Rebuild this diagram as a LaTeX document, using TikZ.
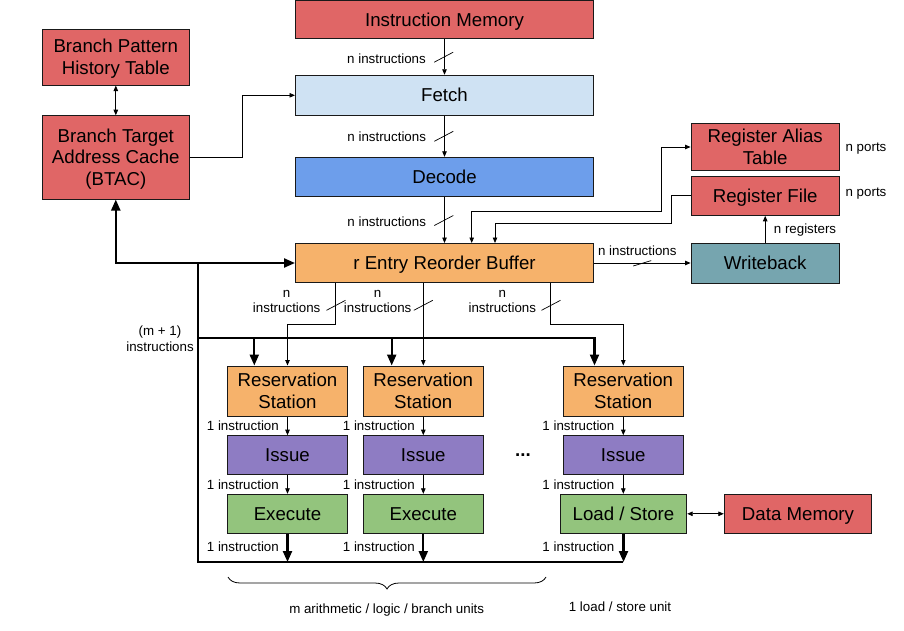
\documentclass[tikz,border=0pt]{standalone}
\usepackage{fontspec}
\setmainfont{Liberation Sans}
\usetikzlibrary{arrows.meta,decorations.pathreplacing,calc}
\definecolor{cred}{HTML}{E06666}
\definecolor{clblue}{HTML}{CFE2F3}
\definecolor{cblue}{HTML}{6D9EEB}
\definecolor{corange}{HTML}{F6B26B}
\definecolor{cteal}{HTML}{76A5AF}
\definecolor{cpurple}{HTML}{8E7CC3}
\definecolor{cgreen}{HTML}{93C47D}
\newcommand{\sst}{\rule[-0.212em]{0pt}{1.117em}}
\begin{document}
\begin{tikzpicture}[x=1pt,y=-1pt,
  box/.style={draw=black!90, line width=1pt, inner sep=0pt, align=center, font=\fontsize{18.67}{21.7}\selectfont},
  lbl/.style={font=\fontsize{13.33}{15.3}\selectfont, inner sep=0pt, align=center},
  arr/.style={line width=0.8pt, -{Triangle[length=5.5pt,width=4.5pt]}},
  arrtwo/.style={line width=0.8pt, {Triangle[length=5.5pt,width=4.5pt]}-{Triangle[length=5.5pt,width=4.5pt]}},
  thickline/.style={line width=2.2pt},
  thickarr/.style={line width=2.2pt, -{Triangle[length=11pt,width=9pt]}},
  slashv/.pic={\draw[line width=0.7pt] (-9.5,5) -- (9.5,-5);},
  slashh/.pic={\draw[line width=0.7pt] (-9,2.7) -- (9,-2.7);}
]
\useasboundingbox (0,0) rectangle (904,631);

% main column
\node[box, fill=cred, minimum width=298pt, minimum height=38pt] (imem) at (444.5,20) {\sst Instruction Memory};
\node[box, fill=clblue, minimum width=298pt, minimum height=40pt] (fetch) at (444.5,95.3) {\sst Fetch};
\node[box, fill=cblue, minimum width=298pt, minimum height=38.7pt] (decode) at (444.5,176.7) {\sst Decode};
\node[box, fill=corange, minimum width=298pt, minimum height=39pt] (rob) at (444.5,263) {\sst r Entry Reorder Buffer};

% branch
\node[box, fill=cred, minimum width=147pt, minimum height=55.7pt] (bpht) at (115.8,57.2) {\sst Branch Pattern\\\sst History Table};
\node[box, fill=cred, minimum width=147pt, minimum height=83.3pt] (btac) at (115.8,157.4) {\sst Branch Target\\\sst Address Cache\\\sst (BTAC)};

% right
\node[box, fill=cred, minimum width=148.3pt, minimum height=47.4pt] (rat) at (765.2,147) {\sst Register Alias\\\sst Table};
\node[box, fill=cred, minimum width=148.3pt, minimum height=39.3pt] (rf) at (765.2,195.7) {\sst Register File};
\node[box, fill=cteal, minimum width=148.3pt, minimum height=40pt] (wb) at (765.2,263) {\sst Writeback};

% columns
\node[box, fill=corange, minimum width=119.6pt, minimum height=50pt] (rs1) at (287.5,391) {\sst Reservation\\\sst Station};
\node[box, fill=corange, minimum width=119.6pt, minimum height=50pt] (rs2) at (423.3,391) {\sst Reservation\\\sst Station};
\node[box, fill=corange, minimum width=119.6pt, minimum height=50pt] (rs3) at (623.3,391) {\sst Reservation\\\sst Station};
\node[box, fill=cpurple, minimum width=119.6pt, minimum height=38.6pt] (is1) at (287.5,455) {\sst Issue};
\node[box, fill=cpurple, minimum width=119.6pt, minimum height=38.6pt] (is2) at (423.3,455) {\sst Issue};
\node[box, fill=cpurple, minimum width=119.6pt, minimum height=38.6pt] (is3) at (623.3,455) {\sst Issue};
\node[box, fill=cgreen, minimum width=119.6pt, minimum height=39pt] (ex1) at (287.5,513.8) {\sst Execute};
\node[box, fill=cgreen, minimum width=119.6pt, minimum height=39pt] (ex2) at (423.3,513.8) {\sst Execute};
\node[box, fill=cgreen, minimum width=126.4pt, minimum height=39pt] (ls) at (623.5,513.8) {\sst Load / Store};
\node[box, fill=cred, minimum width=147.4pt, minimum height=39pt] (dmem) at (798,513.8) {\sst Data Memory};
\node[font=\fontsize{18.67}{21.7}\selectfont\bfseries, inner sep=0pt] (dots) at (523,455.5) {...};

% main flow
\draw[arr] (imem.south) -- (fetch.north);
\pic at (443.7,57.2) {slashv};
\node[lbl] (l1) at (386.5,58.3) {n instructions};
\draw[arr] (fetch.south) -- (decode.north);
\pic at (443.8,136.3) {slashv};
\node[lbl] (l2) at (386.7,136.7) {n instructions};
\draw[arr] (decode.south) -- (rob.north);
\pic at (443.8,220.5) {slashv};
\node[lbl] (l3) at (386.7,221.7) {n instructions};

% branch connections
\draw[arrtwo] (bpht.south) -- (btac.north);
\draw[arr] (btac.east) -- ++(53,0) |- (fetch.west);

% thick feedback
\coordinate (jn) at (198.3,263);
\coordinate (jb) at (198.3,338);
\coordinate (bb) at (198.3,562);
\coordinate (be) at (623.3,562);
\coordinate (t1) at (254.3,338);
\coordinate (t2) at (391.7,338);
\coordinate (t3) at (594.5,338);
\draw[thickarr, line join=miter] (be) -- (bb) -- (jn) -| (btac.south);
\draw[thickarr] (jn) -- (rob.west);
\draw[thickarr, line join=miter] (jb) -- (t3) -- (t3 |- rs3.north);
\draw[thickarr] (t1) -- (t1 |- rs1.north);
\draw[thickarr] (t2) -- (t2 |- rs2.north);
\draw[thickarr] (ex1.south) -- (ex1.south |- bb);
\draw[thickarr] (ex2.south) -- (ex2.south |- bb);
\draw[thickarr] (ls.south) -- (ls.south |- be);
\node[lbl] (m1) at (160,338.8) {(m + 1)\\instructions};

% ROB to reservation stations
\coordinate (o1) at (335.7,282.5);
\coordinate (o3) at (550.7,282.5);
\draw[arr] (o1) -- ++(0,42) -| (rs1.north);
\draw[arr] (rob.south -| rs2.north) -- (rs2.north);
\draw[arr] (o3) -- ++(0,42) -| (rs3.north);
\pic at (336,305.3) {slashv};
\pic at (423.3,305.3) {slashv};
\pic at (551,305.3) {slashv};
\node[lbl] (n1) at (286.7,301.7) {n\\instructions};
\node[lbl] (n2) at (377.7,301.7) {n\\instructions};
\node[lbl] (n3) at (502.3,301.7) {n\\instructions};

% RS -> Issue -> Execute
\draw[arr] (rs1.south) -- (is1.north);
\draw[arr] (rs2.south) -- (is2.north);
\draw[arr] (rs3.south) -- (is3.north);
\draw[arr] (is1.south) -- (ex1.north);
\draw[arr] (is2.south) -- (ex2.north);
\draw[arr] (is3.south) -- (is3.south |- ls.north);
\foreach \c/\x in {a/279,b/415,c/614.5}{
  \node[lbl, anchor=east] (i1\c) at (\x,425.7) {1 instruction};
  \node[lbl, anchor=east] (i2\c) at (\x,484.5) {1 instruction};
  \node[lbl, anchor=east] (i3\c) at (\x,546.3) {1 instruction};
}
\draw[arrtwo] (ls.east) -- (dmem.west);

% register side
\coordinate (r1) at (471.7,211.7);
\coordinate (r2) at (495,223.3);
\draw[arrtwo] (rat.west) -- ++(-29.3,0) |- (r1) -- (r1 |- rob.north);
\draw[arr] (rf.west) -- ++(-18.7,0) |- (r2) -- (r2 |- rob.north);
\draw[arr] (rob.east) -- (wb.west);
\pic at (642.2,263.3) {slashh};
\node[lbl] (wl) at (637.3,250.7) {n instructions};
\draw[arr] (wb.north) -- (rf.south);
\node[lbl] (rl) at (805,230) {n registers};
\node[lbl] (p1) at (866,149) {n ports};
\node[lbl] (p2) at (866,194) {n ports};

% brace and unit labels
\coordinate (b1) at (228,577);
\coordinate (b2) at (546,577);
\draw[line width=0.8pt, decorate, decoration={brace, mirror, amplitude=12pt}] (b1) -- (b2);
\node[lbl] (u1) at (386.7,610) {m arithmetic / logic / branch units};
\node[lbl] (u2) at (620,607) {1 load / store unit};
\end{tikzpicture}
\end{document}
